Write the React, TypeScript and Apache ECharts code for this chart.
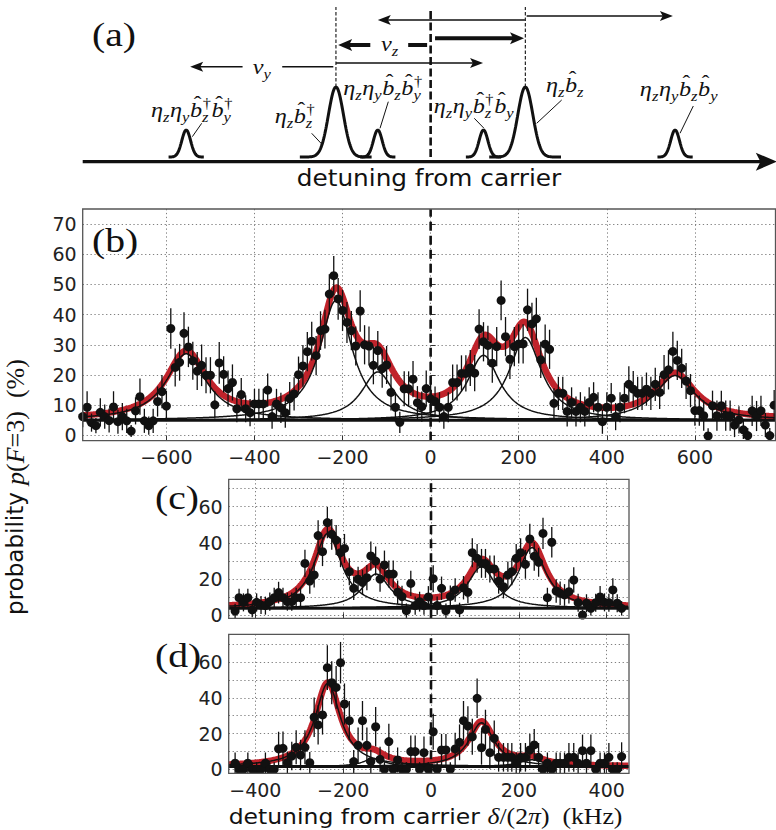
import React, { useEffect, useRef } from "react";
import * as echarts from "echarts";

const SANS = '"DejaVu Sans", sans-serif';
const SERIF = '"Liberation Serif", "DejaVu Serif", serif';
const INK = "#111111";
const RED = "#c0232b";
const GRIDC = "#808080";

// ---------------- panel (b): full scan ----------------
const bDetuning = [
  -790, -780, -770, -760, -750, -740, -730, -720, -710, -700,
  -690, -680, -670, -660, -650, -640, -630, -620, -610, -600,
  -590, -580, -570, -560, -550, -540, -530, -520, -510, -500,
  -490, -480, -470, -460, -450, -440, -430, -420, -410, -400,
  -390, -380, -370, -360, -350, -340, -330, -320, -310, -300,
  -290, -280, -270, -260, -250, -240, -230, -220, -210, -200,
  -190, -180, -170, -160, -150, -140, -130, -120, -110, -100,
  -90, -80, -70, -60, -50, -40, -30, -20, -10, 0,
  10, 20, 30, 40, 50, 60, 70, 80, 90, 100,
  110, 120, 130, 140, 150, 160, 170, 180, 190, 200,
  210, 220, 230, 240, 250, 260, 270, 280, 290, 300,
  310, 320, 330, 340, 350, 360, 370, 380, 390, 400,
  410, 420, 430, 440, 450, 460, 470, 480, 490, 500,
  510, 520, 530, 540, 550, 560, 570, 580, 590, 600,
  610, 620, 630, 640, 650, 660, 670, 680, 690, 700,
  710, 720, 730, 740, 750, 760, 770, 780,
];
const bProb = [
  6.2, 9.3, 4.2, 3.2, 7.6, 6.2, 4.9, 9.4, 4.5, 6.2,
  4.8, 1.4, 8.1, 12.8, 4.8, 3.2, 4.8, 11.2, 14.5, 9.7,
  35.4, 22.5, 24.2, 33.8, 29.3, 24.7, 21.3, 23.2, 19.9, 19.9,
  10.1, 24.0, 20.2, 15.5, 17.5, 8.8, 13.5, 8.8, 7.5, 10.4,
  10.4, 10.4, 15.0, 6.2, 10.4, 9.1, 7.5, 12.2, 13.7, 20.1,
  23.0, 27.7, 31.2, 26.4, 34.7, 35.2, 46.8, 52.9, 45.2, 41.4,
  37.4, 34.7, 29.6, 41.2, 30.0, 29.6, 23.2, 28.1, 22.1, 23.3,
  14.2, 9.3, 4.3, 15.4, 15.4, 18.6, 10.8, 9.5, 15.5, 12.1,
  11.2, 9.3, 6.2, 9.3, 17.5, 17.5, 20.5, 20.5, 22.3, 20.6,
  35.2, 31.0, 29.8, 23.9, 29.4, 44.7, 32.7, 25.2, 29.4, 30.3,
  30.3, 41.6, 36.9, 38.6, 25.0, 30.2, 28.5, 10.6, 13.9, 13.9,
  7.9, 10.9, 7.9, 9.3, 7.9, 10.9, 12.6, 9.3, 4.5, 9.3,
  12.3, 6.2, 9.3, 12.3, 16.9, 15.3, 13.9, 13.9, 15.3, 13.9,
  16.9, 14.2, 20.1, 21.7, 27.8, 24.8, 22.2, 18.0, 14.8, 8.2,
  8.2, 6.5, -0.2, 9.8, 6.5, 9.8, 6.5, 6.5, 3.4, 5.1,
  1.8, -0.1, 8.1, 6.4, 8.1, 3.4, -0.1, 10.0,
];
const bErr = [
  3.5, 5.3, 3, 2.5, 4.7, 4, 4, 5.2, 4, 4.5,
  4, 2, 4.5, 6, 4, 3, 4, 5, 5.5, 5,
  6.7, 6.3, 6.1, 7, 6.7, 6.3, 6.3, 6.9, 6, 6,
  4.5, 6.9, 6, 6, 6, 4.5, 5.5, 4.5, 4.5, 5,
  5, 5, 5.5, 4, 5, 5, 5, 5.5, 5.5, 6,
  6.9, 6.5, 6.4, 6.5, 6.4, 6.4, 6.6, 6.5, 6.9, 6.8,
  6.8, 6.5, 6.5, 6.9, 6.5, 6.5, 6.3, 6.5, 6.3, 6.3,
  6, 5, 3.5, 5.8, 5.8, 6, 5.5, 5, 6, 5.5,
  5, 5, 4, 5, 6, 6, 6, 6, 6, 6,
  6.6, 6.5, 6.5, 6.5, 6.5, 6.6, 6.5, 6.5, 6.5, 6.5,
  6.5, 7, 7, 7, 6, 6.5, 6.5, 5, 5.5, 5.5,
  5, 5, 5, 5, 5, 5, 5, 5, 4, 5,
  5, 4.5, 5, 5, 6, 6, 5.5, 5.5, 5.5, 5.5,
  5.5, 5.5, 6.5, 6.5, 6.5, 6.5, 6.5, 6, 5.5, 5,
  5, 5, 2.5, 5, 5, 5, 5, 5, 4, 4.5,
  3, 2.5, 5, 5, 5, 4, 2.5, 5,
];
const bFitBase = 5.0;
const bFitCenters = [-555, -215, -120, 120, 215, 555];
const bFitAmps = [22, 39.7, 16, 21.5, 27.4, 14.8];
const bFitWidths = [55, 45, 45, 45, 45, 55];

// ---------------- panels (c) and (d): reduced scans ----------------
const cdDetuning = [
  -446, -437, -427, -417, -407, -397, -387, -377, -367, -357,
  -347, -337, -327, -317, -307, -297,
  -287, -276, -266, -257, -247, -236, -226, -216, -206, -197, -186,
  -176, -166, -156, -146, -137, -126, -116, -106, -96, -86, -76,
  -66, -56, -46, -36, -26, -16, -6, 5, 14, 24, 34,
  44, 55, 65, 74, 84, 94, 105, 115, 124, 134, 144,
  154, 165, 175, 184, 194, 204, 215, 225, 235, 245, 255,
  265, 275, 285, 294, 304, 314, 325, 335, 345, 354, 364,
  375, 385, 395, 405, 414, 424, 434,
];
const cProb = [
  2.2, 9.6, 7.0, 9.6, 2.8, 7.0, 5.5, 5.2, 7.4, 9.6,
  12.4, 9.6, 7.4, 7.4, 9.6, 9.6,
  28.6, 18.8, 22.2, 44.0, 35.1, 51.2, 44.7, 41.5, 34.5, 36.9, 24.0,
  14.8, 19.8, 18.1, 20.7, 32.7, 29.9, 19.9, 27.7, 22.7, 22.7, 12.6,
  10.2, 2.4, 17.5, 5.2, 7.4, 5.2, 10.0, 20.1, 5.2, 14.8, 2.4,
  10.3, 13.9, 2.8, 15.1, 12.6, 34.5, 31.4, 28.6, 28.6, 25.5, 25.5,
  18.8, 15.7, 22.2, 24.0, 31.4, 34.5, 28.1, 42.1, 32.5, 29.2, 45.2,
  9.6, 40.3, 13.3, 12.0, 11.1, 12.9, 19.4, 6.8, 0, 6.5, 3.7,
  6.8, 10.0, 7.0, 6.8, 13.9, 6.5, 3.7,
];
const cErr = [
  4, 5, 5, 5, 4, 5, 5, 5, 5, 5.5,
  6, 5.5, 5, 5, 5.5, 5.5,
  7.5, 7, 7, 8.5, 8, 8.7, 8.5, 8.3, 8, 8, 7.5,
  6.5, 7, 7, 7, 8, 8, 7, 8, 7.5, 7.5, 6.5,
  6, 4, 7, 5, 5.5, 5, 6, 7.5, 5, 6.5, 4,
  6, 6.5, 4, 6.5, 6, 8, 8, 8, 8, 7.5, 7.5,
  7, 6.5, 7.5, 7.5, 8, 8, 8, 8.5, 8, 8, 8.7,
  5.5, 8.5, 6.5, 6.5, 6, 6.5, 7, 5, 3, 5, 4,
  5, 6, 5, 5, 6.5, 5, 4,
];
const cFitBase = 3.8;
const cFitCenters = [-235, -125, 115, 230];
const cFitAmps = [41.4, 18.9, 23, 33.5];
const cFitWidths = [38, 38, 38, 38];

const dProb = [
  3.4, 0, 0, 3.4, 0, 0, 0, 3.4, 0, 0,
  11.5, 11.7, 3.7, 7.4, 12.3, 8.0,
  12.3, 3.7, 29.1, 24.8, 30.4, 56.8, 48.4, 45.8, 59.6, 36.5, 27.2,
  4.3, 13.4, 27.2, 13.4, 4.3, 23.8, 5.6, 0, 15.5, 0, 5.2,
  0, 0, 9.9, 9.9, 0, 9.3, 0, 21.0, 0, 10.8, 10.8,
  0, 11.4, 15.1, 27.2, 24.2, 18.2, 39.7, 12.1, 22.3, 9.3, 17.3,
  6.7, 6.7, 6.7, 6.7, 3.4, 6.7, 6.7, 10.8, 13.6, 6.7, 0,
  3.4, 0, 3.4, 3.4, 3.4, 6.7, 6.7, 3.4, 10.4, 3.4, 10.4,
  0, 3.4, 3.4, 6.7, 0, 0, 7.1,
];
const dErr = [
  6, 4, 4, 6, 4, 4, 4, 6, 4, 4,
  9.5, 9.5, 6, 8, 9.5, 8.5,
  9.5, 6, 11, 11, 11, 12.5, 12, 12, 11.6, 11.5, 11,
  6.5, 10, 11, 10, 6.5, 11, 7, 4, 10, 4, 7,
  4, 4, 9, 9, 4, 9, 4, 10, 4, 9, 9,
  4, 9, 10, 11, 11, 10, 11, 9.5, 11, 9, 10,
  8, 8, 8, 8, 6, 8, 8, 9, 9, 8, 4,
  6, 4, 6, 6, 6, 8, 8, 6, 9, 6, 9,
  4, 6, 6, 8, 4, 4, 8,
];
const dFitBase = 1.5;
const dFitCenters = [-235, -130, 115, 230];
const dFitAmps = [46.5, 4.5, 24.5, 3.8];
const dFitWidths = [35, 30, 35, 35];

// ---------------- panel (a): schematic sidebands ----------------
const schemCenters = [-555, -215, -120, 120, 215, 555];
const schemHeights = [27, 70, 27, 27, 70, 27];
const schemSigmas = [10, 17, 10, 10, 17, 10];
const schemHalfSpans = [40, 82, 40, 40, 82, 40];
// arrows: [x1, v1, x2, v2, lineWidth, headLength, headWidth]
const schemArrows = [
  [-790, -4.7, 786, -4.7, 3.3, 21, 18],
  [214, 137, -120, 137, 1.5, 13, 10],
  [218, 141, 550, 141, 1.5, 13, 10],
  [10, 118.7, 212, 118.7, 4, 14, 12],
  [-137, 112, -210, 112, 4, 14, 12],
  [-51, 112, -8, 112, 4, 0, 0],
  [-215, 94, 119, 94, 1.5, 13, 10],
  [-221, 90.3, -337, 90.3, 1.5, 0, 0],
  [-427, 90.3, -546, 90.3, 1.5, 13, 10],
];
const schemGuides = [-215, 215];

// ---------------- helpers ----------------
const fmt = (v: number) => (v < 0 ? "\u2212" + Math.abs(v) : String(v));
function lorentz(x: number, c: number, a: number, w: number) {
  const u = (x - c) / w;
  return a / (1 + u * u);
}
function sampleRange(min: number, max: number, step: number) {
  const out: number[] = [];
  for (let x = min; x <= max + 1e-9; x += step) out.push(x);
  return out;
}
function fitTotal(xs: number[], base: number, cs: number[], as: number[], ws: number[]) {
  return xs.map((x) => [x, base + cs.reduce((s, c, i) => s + lorentz(x, c, as[i], ws[i]), 0)]);
}
function fitComponent(xs: number[], base: number, c: number, a: number, w: number) {
  return xs.map((x) => [x, base + lorentz(x, c, a, w)]);
}

let measureCtx: CanvasRenderingContext2D | null = null;
function textW(t: string, size: number, italic: boolean) {
  if (!measureCtx) measureCtx = document.createElement("canvas").getContext("2d");
  if (!measureCtx) return t.length * size * 0.5;
  measureCtx.font = `${italic ? "italic " : ""}${size}px ${SERIF}`;
  return measureCtx.measureText(t).width;
}
type Atom = { b: string; hat?: boolean; sup?: string; sub?: string };
function mathLabel(atoms: Atom[], cx: number, baseline: number, size: number, sx = 1.1) {
  const ss = size * 0.68;
  const mid = (s: number) => -0.34 * s;
  const kids: any[] = [];
  let x = 0;
  for (const a of atoms) {
    const w = textW(a.b, size, true);
    kids.push({
      type: "text", x, y: mid(size),
      style: { text: a.b, fontSize: size, fontFamily: SERIF, fontStyle: "italic", fill: INK, align: "left", verticalAlign: "middle" },
    });
    if (a.hat) {
      kids.push({
        type: "text", x: x + w * 0.62, y: mid(size) - 0.27 * size,
        style: { text: "\u02C6", fontSize: size * 0.95, fontFamily: SERIF, fill: INK, align: "center", verticalAlign: "middle" },
      });
    }
    x += w;
    let sw = 0;
    if (a.sup) {
      kids.push({
        type: "text", x: x + 0.5, y: -0.42 * size + mid(ss),
        style: { text: a.sup, fontSize: ss, fontFamily: SERIF, fill: INK, align: "left", verticalAlign: "middle" },
      });
      sw = Math.max(sw, textW(a.sup, ss, false) + 0.5);
    }
    if (a.sub) {
      kids.push({
        type: "text", x, y: 0.24 * size + mid(ss),
        style: { text: a.sub, fontSize: ss, fontFamily: SERIF, fontStyle: "italic", fill: INK, align: "left", verticalAlign: "middle" },
      });
      sw = Math.max(sw, textW(a.sub, ss, true));
    }
    x += sw + 0.6;
  }
  return { type: "group", x: cx - (x * sx) / 2, y: baseline, scaleX: sx, children: kids };
}

const etaZ: Atom = { b: "\u03B7", sub: "z" };
const etaY: Atom = { b: "\u03B7", sub: "y" };
const schemLabels: { atoms: Atom[]; cx: number; base: number }[] = [
  { atoms: [etaZ, etaY, { b: "b", hat: true, sup: "\u2020", sub: "z" }, { b: "b", hat: true, sup: "\u2020", sub: "y" }], cx: 192, base: 117 },
  { atoms: [etaZ, { b: "b", hat: true, sup: "\u2020", sub: "z" }], cx: 295, base: 123 },
  { atoms: [etaZ, etaY, { b: "b", hat: true, sub: "z" }, { b: "b", hat: true, sup: "\u2020", sub: "y" }], cx: 383, base: 95 },
  { atoms: [etaZ, etaY, { b: "b", hat: true, sup: "\u2020", sub: "z" }, { b: "b", hat: true, sub: "y" }], cx: 474, base: 113 },
  { atoms: [etaZ, { b: "b", hat: true, sub: "z" }], cx: 565, base: 92 },
  { atoms: [etaZ, etaY, { b: "b", hat: true, sub: "z" }, { b: "b", hat: true, sub: "y" }], cx: 679, base: 96 },
  { atoms: [{ b: "\u03BD", sub: "y" }], cx: 262, base: 74 },
  { atoms: [{ b: "\u03BD", sub: "z" }], cx: 390, base: 51 },
];
const leaderLines = [
  [201.7, 123.3, 192.3, 136.7],
  [311.7, 133.3, 321.7, 144],
  [388.3, 101.7, 380, 128.3],
  [474.3, 118.3, 484, 128.3],
  [561.7, 100, 536.7, 123.3],
  [693.3, 106, 680, 133.3],
];

// ---------------- layout (pixels) ----------------
const LAY = {
  a: { left: 82.7, top: 0, width: 692.8, height: 162, xMin: -790, xMax: 783 },
  b: { left: 82.7, width: 692.8, xMin: -790, xMax: 783, y0: 435.3, y70: 224.1, fTop: 209, fBot: 440.7, tickLeft: 166.38, tickW: 528.5, tMin: -600, tMax: 600 },
  c: { left: 228.7, width: 400.3, xMin: -460.6, xMax: 450.8, y0: 615, y70: 488.65, fTop: 479.3, fBot: 618.3, tickLeft: 255.32, tickW: 351.38, tMin: -400, tMax: 400 },
  d: { left: 228.7, width: 400.3, xMin: -460.6, xMax: 450.8, y0: 769.3, y70: 644.1, fTop: 634.3, fBot: 773.3, tickLeft: 255.32, tickW: 351.38, tMin: -400, tMax: 400 },
};

function buildOption() {
  const grids: any[] = [];
  const xAxes: any[] = [];
  const yAxes: any[] = [];
  const series: any[] = [];
  const splitStyle = { color: GRIDC, width: 1, type: [1.3, 2.6] };

  // grid 0: schematic
  grids.push({ left: LAY.a.left, top: LAY.a.top, width: LAY.a.width, height: LAY.a.height, outerBoundsMode: "none", containLabel: false });
  xAxes.push({ type: "value", gridIndex: 0, min: LAY.a.xMin, max: LAY.a.xMax, show: false });
  yAxes.push({ type: "value", gridIndex: 0, min: -5, max: 157, show: false });

  schemCenters.forEach((c, i) => {
    const xs = sampleRange(c - schemHalfSpans[i], c + schemHalfSpans[i], 1);
    series.push({
      type: "line", xAxisIndex: 0, yAxisIndex: 0, symbol: "none", silent: true, clip: false, z: 3,
      lineStyle: { color: INK, width: 3 },
      data: xs.map((x) => [x, schemHeights[i] * Math.exp(-((x - c) ** 2) / (2 * schemSigmas[i] ** 2))]),
    });
  });
  schemGuides.forEach((g) => {
    series.push({
      type: "line", xAxisIndex: 0, yAxisIndex: 0, symbol: "none", silent: true, clip: false, z: 2,
      lineStyle: { color: INK, width: 1.1, type: [3.5, 2] },
      data: [[g, 70], [g, 150]],
    });
  });
  series.push({
    type: "line", xAxisIndex: 0, yAxisIndex: 0, symbol: "none", silent: true, clip: false, z: 2,
    lineStyle: { color: INK, width: 2.6, type: [8, 3.5] },
    data: [[0, 0], [0, 149]],
  });
  series.push({
    type: "custom", xAxisIndex: 0, yAxisIndex: 0, silent: true, clip: false, z: 4,
    encode: { x: [0, 2], y: [1, 3] },
    data: schemArrows,
    renderItem: (_p: any, api: any) => {
      const a = api.coord([api.value(0), api.value(1)]);
      const b = api.coord([api.value(2), api.value(3)]);
      const lw = api.value(4), hl = api.value(5), hw = api.value(6);
      const dx = b[0] - a[0], dy = b[1] - a[1];
      const L = Math.hypot(dx, dy) || 1;
      const ux = dx / L, uy = dy / L, nx = -uy, ny = ux;
      const kids: any[] = [];
      const ex = hl > 0 ? b[0] - ux * hl * 0.7 : b[0];
      const ey = hl > 0 ? b[1] - uy * hl * 0.7 : b[1];
      kids.push({ type: "line", shape: { x1: a[0], y1: a[1], x2: ex, y2: ey }, style: { stroke: INK, lineWidth: lw } });
      if (hl > 0) {
        const bx = b[0] - ux * hl, by = b[1] - uy * hl;
        kids.push({
          type: "polygon",
          shape: { points: [[b[0], b[1]], [bx + (nx * hw) / 2, by + (ny * hw) / 2], [b[0] - ux * hl * 0.78, b[1] - uy * hl * 0.78], [bx - (nx * hw) / 2, by - (ny * hw) / 2]] },
          style: { fill: INK },
        });
      }
      return { type: "group", children: kids };
    },
  });

  // data panels
  const panels = [
    { L: LAY.b, x: bDetuning, y: bProb, e: bErr, base: bFitBase, cs: bFitCenters, as: bFitAmps, ws: bFitWidths, labelStep: 10, xLabels: true },
    { L: LAY.c, x: cdDetuning, y: cProb, e: cErr, base: cFitBase, cs: cFitCenters, as: cFitAmps, ws: cFitWidths, labelStep: 20, xLabels: false },
    { L: LAY.d, x: cdDetuning, y: dProb, e: dErr, base: dFitBase, cs: dFitCenters, as: dFitAmps, ws: dFitWidths, labelStep: 20, xLabels: true },
  ];
  panels.forEach((P, k) => {
    const L = P.L;
    const gData = 1 + k * 2;
    const gTick = gData + 1;
    const pxPerUnit = (L.y0 - L.y70) / 70;
    const yLo = -(L.fBot - L.y0) / pxPerUnit;
    const yHi = 70 + (L.y70 - L.fTop) / pxPerUnit;
    grids.push({ left: L.left, top: L.y70, width: L.width, height: L.y0 - L.y70, outerBoundsMode: "none", containLabel: false });
    grids.push({ left: L.tickLeft, top: L.fTop, width: L.tickW, height: L.fBot - L.fTop, outerBoundsMode: "none", containLabel: false });
    xAxes.push({ type: "value", gridIndex: gData, min: L.xMin, max: L.xMax, show: false });
    yAxes.push({
      type: "value", gridIndex: gData, min: 0, max: 70, interval: 10,
      axisLine: { show: false },
      axisTick: { show: true, inside: true, length: 5, lineStyle: { color: "#333", width: 1 } },
      axisLabel: {
        show: true, margin: 6, fontFamily: SANS, fontSize: 19, color: "#222",
        showMinLabel: true, showMaxLabel: true,
        formatter: (v: number) => (Math.round(v) % P.labelStep === 0 ? fmt(v) : ""),
      },
      splitLine: { show: true, lineStyle: splitStyle },
    });
    xAxes.push({
      type: "value", gridIndex: gTick, min: L.tMin, max: L.tMax, interval: 200,
      axisLine: { show: false },
      axisTick: { show: true, inside: true, length: 5, lineStyle: { color: "#333", width: 1 } },
      axisLabel: { show: P.xLabels, margin: 7, fontFamily: SANS, fontSize: 19, color: "#222", formatter: fmt, showMinLabel: true, showMaxLabel: true },
      splitLine: { show: true, lineStyle: splitStyle },
    });
    yAxes.push({ type: "value", gridIndex: gTick, min: 0, max: 1, show: false });

    const xs = sampleRange(L.xMin, L.xMax, 2);
    series.push({
      type: "line", xAxisIndex: gData, yAxisIndex: gData, symbol: "none", silent: true, clip: false, z: 2,
      lineStyle: { color: RED, width: 6.5, opacity: 1 },
      data: fitTotal(xs, P.base, P.cs, P.as, P.ws),
    });
    P.cs.forEach((c, i) => {
      series.push({
        type: "line", xAxisIndex: gData, yAxisIndex: gData, symbol: "none", silent: true, clip: false, z: 3,
        lineStyle: { color: INK, width: 1.5, opacity: 1 },
        data: fitComponent(xs, P.base, c, P.as[i], P.ws[i]),
      });
    });
    series.push({
      type: "line", xAxisIndex: gData, yAxisIndex: gData, symbol: "none", silent: true, clip: false, z: 3,
      lineStyle: { color: INK, width: 3, opacity: 1 },
      data: [[L.xMin, P.base], [L.xMax, P.base]],
    });
    series.push({
      type: "line", xAxisIndex: gData, yAxisIndex: gData, symbol: "none", silent: true, clip: false, z: 4,
      lineStyle: { color: INK, width: 2.6, type: [9, 5], opacity: 1 },
      data: [[0, yLo], [0, yHi]],
    });
    series.push({
      type: "custom", xAxisIndex: gData, yAxisIndex: gData, silent: true, clip: false, z: 5,
      encode: { x: 0, y: 1 },
      data: P.x.map((x, i) => [x, P.y[i], P.e[i]]),
      renderItem: (_p: any, api: any) => {
        const x = api.value(0), y = api.value(1), e = api.value(2);
        const p1 = api.coord([x, Math.max(y - e, yLo)]);
        const p2 = api.coord([x, Math.min(y + e, yHi)]);
        return { type: "line", shape: { x1: p1[0], y1: p1[1], x2: p2[0], y2: p2[1] }, style: { stroke: INK, lineWidth: 1.3, opacity: 1 } };
      },
    });
    series.push({
      type: "scatter", xAxisIndex: gData, yAxisIndex: gData, silent: true, clip: false, z: 6,
      symbol: "circle", symbolSize: 9, itemStyle: { color: INK, opacity: 1, borderWidth: 0 },
      data: P.x.map((x, i) => [x, P.y[i]]),
    });
  });

  // graphic annotations
  const graphic: any[] = [];
  [LAY.b, LAY.c, LAY.d].forEach((L) => {
    graphic.push({
      type: "rect", z: 100, silent: true,
      shape: { x: L.left, y: L.fTop, width: L.width, height: L.fBot - L.fTop },
      style: { fill: "none", stroke: "#555", lineWidth: 1.3 },
    });
  });
  const panelLabels = [
    ["(a)", 92, 35], ["(b)", 92, 241], ["(c)", 155, 498], ["(d)", 155, 656],
  ] as [string, number, number][];
  panelLabels.forEach(([t, x, y]) => {
    graphic.push({
      type: "text", x, y, scaleX: 1.2, z: 100,
      style: { text: t, fontSize: 33, fontFamily: SERIF, fill: INK, align: "left", verticalAlign: "middle" },
    });
  });
  graphic.push({
    type: "text", x: 429, y: 178, scaleX: 1.1, z: 100,
    style: { text: "detuning from carrier", fontSize: 22.5, fontFamily: SANS, fill: INK, align: "center", verticalAlign: "middle" },
  });
  schemLabels.forEach((l) => graphic.push({ ...mathLabel(l.atoms, l.cx, l.base, 22, 1.1), z: 100 }));
  leaderLines.forEach(([x1, y1, x2, y2]) => {
    graphic.push({ type: "line", z: 100, shape: { x1, y1, x2, y2 }, style: { stroke: INK, lineWidth: 1 } });
  });
  graphic.push({
    type: "text", x: 15, y: 487, rotation: Math.PI / 2, z: 100,
    style: {
      text: "{s|probability }{m|p}{r|(}{m|F}{r|=3)  (%)}",
      align: "center", verticalAlign: "middle", fill: INK,
      rich: {
        s: { fontFamily: SANS, fontSize: 23, fill: INK },
        m: { fontFamily: SERIF, fontStyle: "italic", fontSize: 26, fill: INK },
        r: { fontFamily: SERIF, fontSize: 26, fill: INK },
      },
    },
  });
  graphic.push({
    type: "text", x: 425.5, y: 816, scaleX: 1.12, z: 100,
    style: {
      text: "{s|detuning from carrier }{m|\u03B4}{r|/(2}{m|\u03C0}{r|)  (kHz)}",
      align: "center", verticalAlign: "middle", fill: INK,
      rich: {
        s: { fontFamily: SANS, fontSize: 21, fill: INK },
        m: { fontFamily: SERIF, fontStyle: "italic", fontSize: 23, fill: INK },
        r: { fontFamily: SERIF, fontSize: 23, fill: INK },
      },
    },
  });

  return {
    animation: false,
    backgroundColor: "#ffffff",
    grid: grids,
    xAxis: xAxes,
    yAxis: yAxes,
    series,
    graphic,
  };
}

const App = () => {
  const ref = useRef<HTMLDivElement>(null);
  useEffect(() => {
    if (!ref.current) return;
    const chart = echarts.init(ref.current, null, { renderer: "svg" });
    chart.setOption(buildOption() as any);
    return () => chart.dispose();
  }, []);
  return (
    <div
      ref={ref}
      style={{ position: "absolute", left: 0, top: 0, width: 776, height: 830, background: "#fff" }}
    />
  );
};

export default App;
